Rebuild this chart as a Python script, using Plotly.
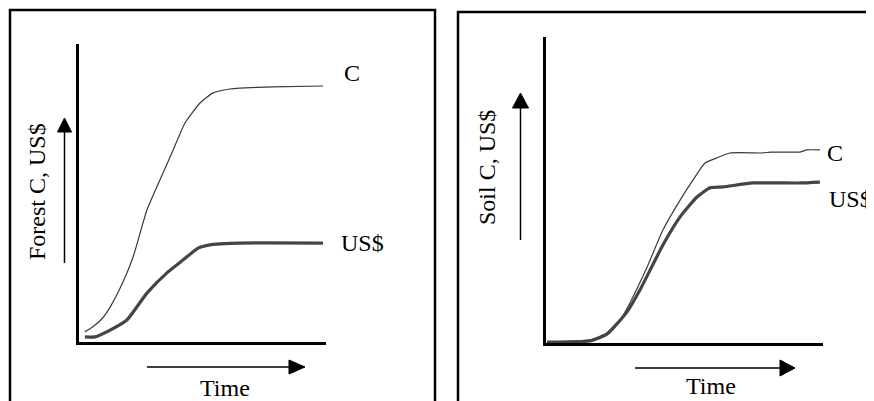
import plotly.graph_objects as go

W, H = 874, 401
OFF = 8  # browser default body margin

# ---------------- data (arbitrary units: time 0-100, value 0-100) ----------------
forest_c_time = [2.4, 5.5, 9.3, 12.6, 17.8, 21.9, 27.5, 34.0, 38.1, 42.9, 49.0, 54.3, 61.1, 65.2, 78.5, 98.8]
forest_c = [3.4, 5.0, 7.8, 11.7, 20.1, 28.5, 44.3, 56.7, 64.4, 73.5, 80.2, 83.6, 84.9, 85.2, 85.6, 85.9]
forest_usd_time = [2.4, 6.5, 12.6, 19.4, 27.5, 35.6, 42.1, 48.2, 53.0, 57.1, 65.2, 98.8]
forest_usd = [1.7, 1.7, 4.0, 7.4, 16.4, 23.2, 27.5, 31.5, 32.6, 32.9, 33.2, 33.2]

soil_c_time = [0.4, 15.9, 22.0, 26.7, 30.3, 36.5, 42.2, 48.4, 53.1, 57.4, 61.7, 66.4, 78.3, 80.9, 91.7, 94.2, 98.9]
soil_c = [0.3, 1.0, 3.3, 7.5, 13.1, 24.8, 36.9, 46.7, 53.3, 58.8, 60.5, 62.1, 62.1, 62.4, 62.4, 63.1, 63.1]
soil_usd_time = [0.4, 15.9, 22.0, 29.2, 33.9, 42.2, 48.4, 54.5, 59.2, 63.9, 74.7, 91.7, 98.9]
soil_usd = [0.3, 0.7, 2.9, 10.1, 17.3, 32.0, 41.2, 47.7, 50.7, 51.0, 52.3, 52.3, 52.6]

series_labels = ["C", "US$"]
y_titles = ["Forest C, US$", "Soil C, US$"]
x_title = "Time"

FONT = "Liberation Serif, Times New Roman, serif"
FS = 24


def px(x):
    return (x - OFF) / W


def py(y):
    return 1 - (y - OFF) / H


fig = go.Figure()

thin = dict(color="#3a3a3a", width=1.2, shape="spline", smoothing=0.5)
thick = dict(color="#444444", width=3.2, shape="spline", smoothing=0.5)

fig.add_trace(go.Scatter(x=forest_c_time, y=forest_c, mode="lines", line=thin, xaxis="x", yaxis="y", showlegend=False))
fig.add_trace(go.Scatter(x=forest_usd_time, y=forest_usd, mode="lines", line=thick, xaxis="x", yaxis="y", showlegend=False))
fig.add_trace(go.Scatter(x=soil_c_time, y=soil_c, mode="lines", line=thin, xaxis="x2", yaxis="y2", showlegend=False))
fig.add_trace(go.Scatter(x=soil_usd_time, y=soil_usd, mode="lines", line=thick, xaxis="x2", yaxis="y2", showlegend=False))

ax_common = dict(showgrid=False, zeroline=False, showticklabels=False, ticks="",
                 showline=True, linecolor="black", linewidth=3, range=[0, 100], fixedrange=True)

fig.update_layout(
    width=W, height=H,
    margin=dict(l=0, r=0, t=0, b=0),
    paper_bgcolor="white", plot_bgcolor="white",
    xaxis=dict(domain=[px(79), px(326)], anchor="y", **ax_common),
    yaxis=dict(domain=[py(342), py(44)], anchor="x", **ax_common),
    xaxis2=dict(domain=[px(546), px(823)], anchor="y2", **ax_common),
    yaxis2=dict(domain=[py(343), py(37)], anchor="x2", **ax_common),
)

shapes = []
# panel borders
shapes.append(dict(type="rect", xref="paper", yref="paper", x0=px(10), x1=px(435), y0=py(430), y1=py(10),
                   line=dict(color="black", width=2.5)))
shapes.append(dict(type="rect", xref="paper", yref="paper", x0=px(458), x1=px(900), y0=py(430), y1=py(12),
                   line=dict(color="black", width=2.5)))


def arrow_v(x, y_bottom, y_base, y_tip, half):
    shapes.append(dict(type="line", xref="paper", yref="paper", x0=px(x), x1=px(x), y0=py(y_bottom), y1=py(y_base),
                       line=dict(color="black", width=1.5)))
    path = f"M {px(x - half)},{py(y_base)} L {px(x + half)},{py(y_base)} L {px(x)},{py(y_tip)} Z"
    shapes.append(dict(type="path", xref="paper", yref="paper", path=path, fillcolor="black",
                       line=dict(color="black", width=1)))


def arrow_h(y, x_left, x_base, x_tip, half):
    shapes.append(dict(type="line", xref="paper", yref="paper", x0=px(x_left), x1=px(x_base), y0=py(y), y1=py(y),
                       line=dict(color="black", width=1.5)))
    path = f"M {px(x_base)},{py(y - half)} L {px(x_base)},{py(y + half)} L {px(x_tip)},{py(y)} Z"
    shapes.append(dict(type="path", xref="paper", yref="paper", path=path, fillcolor="black",
                       line=dict(color="black", width=1)))


arrow_v(64.5, 263, 132, 118, 7)
arrow_h(367, 147, 289, 305, 7)
arrow_v(520.5, 240, 108, 93, 8)
arrow_h(368, 635, 780, 795, 8)

fig.update_layout(shapes=shapes)

ann = []


def text(s, x, y, angle=0):
    ann.append(dict(text=s, x=px(x), y=py(y), xref="paper", yref="paper", showarrow=False,
                    xanchor="center", yanchor="middle", textangle=angle,
                    font=dict(family=FONT, size=FS, color="black")))


text(series_labels[0], 352, 73)
text(series_labels[1], 362, 243)
text(x_title, 225, 388)
text(y_titles[0], 37, 192, -90)

text(series_labels[0], 835, 153)
text(series_labels[1], 850, 199)
text(x_title, 711, 386)
text(y_titles[1], 487, 167, -90)

fig.update_layout(annotations=ann)

fig.write_html("out.html")
